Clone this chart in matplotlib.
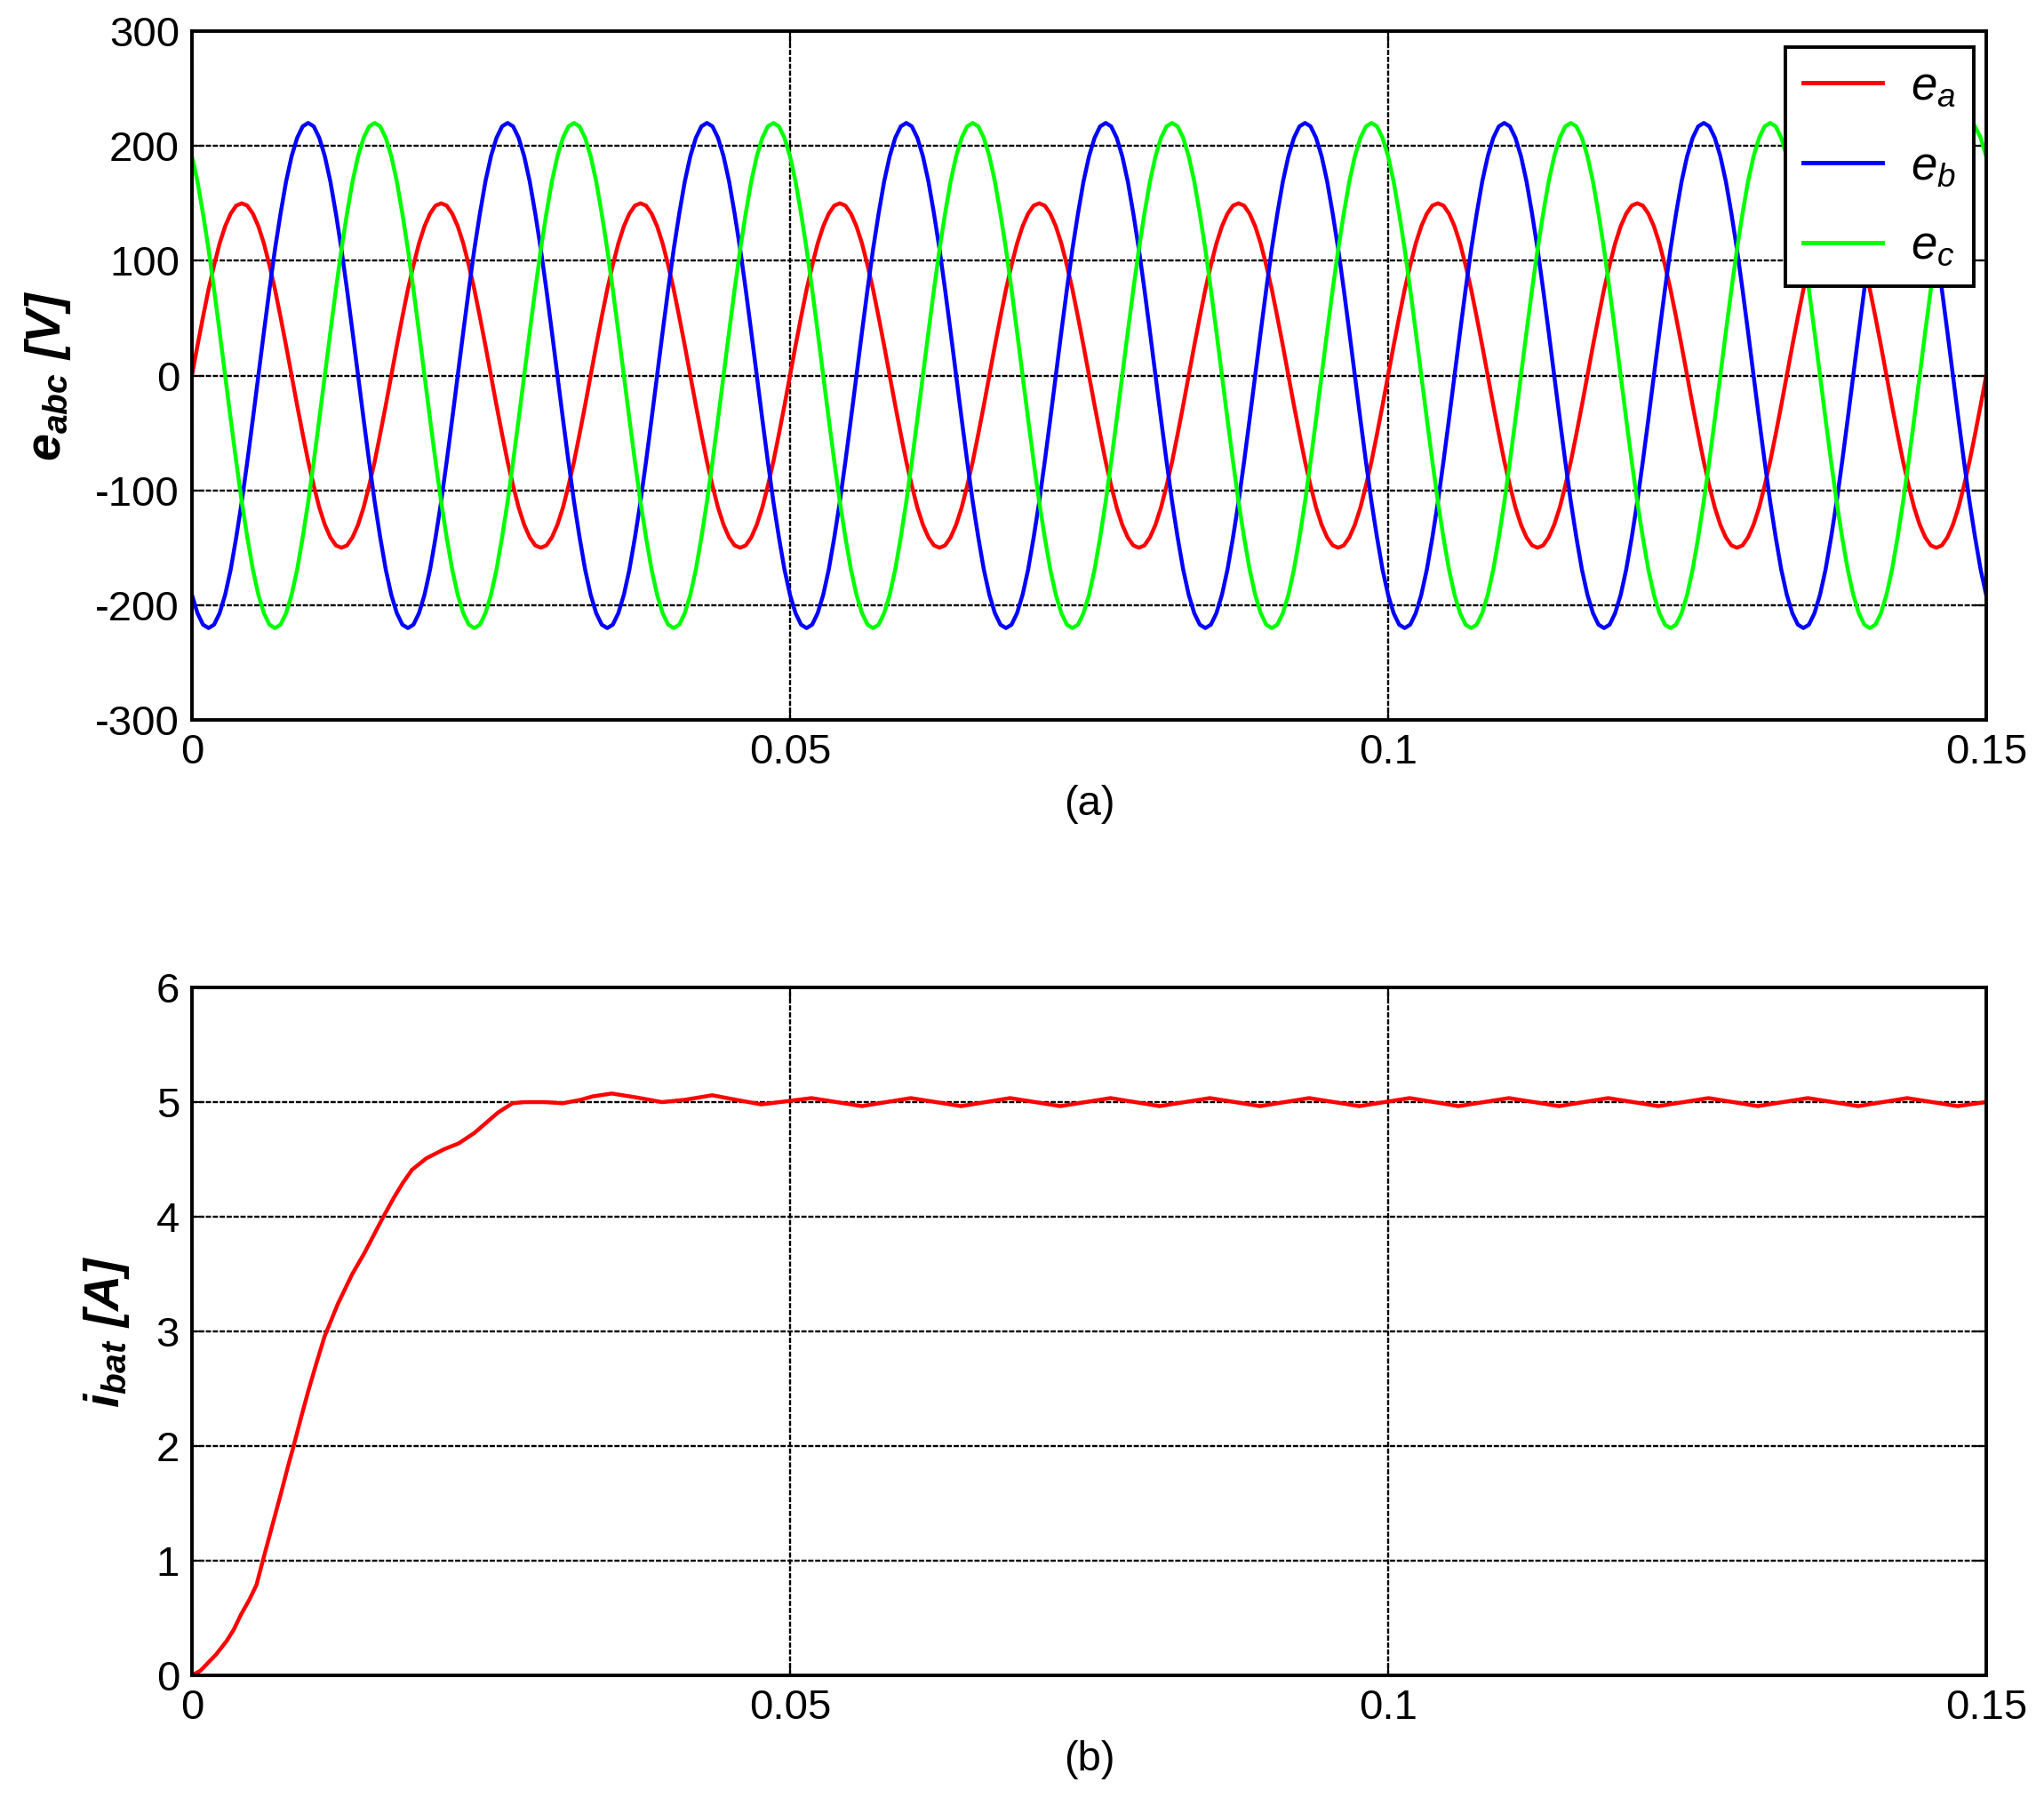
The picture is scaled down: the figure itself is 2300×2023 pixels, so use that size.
import matplotlib
matplotlib.use('Agg')
import matplotlib.pyplot as plt
import numpy as np

# --- panel (a): one 60 Hz cycle of each emf, read every 10 deg ---
f_line = 60.0
n_cycles = 9
ea_cycle = [0, 26, 51, 75, 96, 115, 130, 141, 148, 150, 148, 141, 130, 115, 96, 75, 51, 26,
            0, -26, -51, -75, -96, -115, -130, -141, -148, -150, -148, -141, -130, -115, -96, -75, -51, -26]
eb_cycle = [-191, -207, -217, -220, -217, -207, -191, -169, -141, -110, -75, -38,
            0, 38, 75, 110, 141, 169, 191, 207, 217, 220, 217, 207,
            191, 169, 141, 110, 75, 38, 0, -38, -75, -110, -141, -169]
ec_cycle = [191, 169, 141, 110, 75, 38, 0, -38, -75, -110, -141, -169,
            -191, -207, -217, -220, -217, -207, -191, -169, -141, -110, -75, -38,
            0, 38, 75, 110, 141, 169, 191, 207, 217, 220, 217, 207]
emf_labels = [r'$e_a$', r'$e_b$', r'$e_c$']
emf_colors = ['#ff0000', '#0000ff', '#00ff00']

# --- panel (b): battery current ---
t_bat = [0, 0.0007, 0.0020, 0.0029, 0.0035, 0.0041, 0.0048, 0.0054, 0.0059,
         0.0067, 0.0075, 0.0081, 0.0085, 0.0091, 0.0097, 0.0104, 0.0111,
         0.0113, 0.0122, 0.0134, 0.0144, 0.0153, 0.0160, 0.0169, 0.0176,
         0.0184, 0.0196, 0.0211, 0.0223, 0.0236, 0.0246, 0.0256, 0.0268,
         0.0278, 0.0295, 0.0310, 0.0325, 0.0335, 0.0351, 0.0372, 0.0393,
         0.0412, 0.0435, 0.0455, 0.0476,
         0.0518, 0.0560, 0.0601, 0.0643, 0.0684, 0.0726, 0.0768, 0.0809,
         0.0851, 0.0893, 0.0934, 0.0976, 0.1018, 0.1059, 0.1101, 0.1143,
         0.1184, 0.1226, 0.1268, 0.1309, 0.1351, 0.1393, 0.1434, 0.1476,
         0.1500]
i_bat = [0, 0.04, 0.18, 0.30, 0.40, 0.53, 0.66, 0.79, 0.99,
         1.30, 1.61, 1.85, 2.00, 2.24, 2.47, 2.72, 2.96,
         3.01, 3.24, 3.50, 3.68, 3.86, 4.00, 4.17, 4.29,
         4.41, 4.51, 4.59, 4.64, 4.73, 4.82, 4.91, 4.99,
         5.00, 5.00, 4.99, 5.02, 5.05, 5.075, 5.04, 5.00,
         5.02, 5.06, 5.02, 4.98,
         5.035, 4.965, 5.035, 4.965, 5.035, 4.965, 5.035, 4.965,
         5.035, 4.965, 5.035, 4.965, 5.035, 4.965, 5.035, 4.965,
         5.035, 4.965, 5.035, 4.965, 5.035, 4.965, 5.035, 4.965,
         5.0]

x_ticks = [0, 0.05, 0.1, 0.15]
x_ticklabels = ['0', '0.05', '0.1', '0.15']
ya_ticks = [-300, -200, -100, 0, 100, 200, 300]
yb_ticks = [0, 1, 2, 3, 4, 5, 6]

plt.rcParams['font.family'] = ['Liberation Sans', 'DejaVu Sans']
plt.rcParams['mathtext.fontset'] = 'custom'
plt.rcParams['mathtext.rm'] = 'Liberation Sans'
plt.rcParams['mathtext.it'] = 'Liberation Sans:italic'
plt.rcParams['mathtext.bf'] = 'Liberation Sans:bold'
plt.rcParams['mathtext.bfit'] = 'Liberation Sans:bold:italic'
plt.rcParams['axes.unicode_minus'] = False

fig = plt.figure(figsize=(23, 20.23), dpi=100)
ax1 = fig.add_axes([0.0939, 0.5996, 0.8778, 0.3831])
ax2 = fig.add_axes([0.0939, 0.0682, 0.8778, 0.3826])

n_pts = len(ea_cycle)
t_emf = np.arange(n_cycles * n_pts + 1) * (1.0 / f_line) / n_pts
for cyc, lab, col in zip([ea_cycle, eb_cycle, ec_cycle], emf_labels, emf_colors):
    vals = np.append(np.tile(cyc, n_cycles), cyc[0])
    ax1.plot(t_emf, vals, color=col, lw=3.2, label=lab)

ax2.plot(t_bat, i_bat, color='#ff0000', lw=3.2)

def style(ax, yticks):
    ax.set_xlim(0, 0.15)
    ax.set_ylim(yticks[0], yticks[-1])
    ax.set_xticks(x_ticks)
    ax.set_xticklabels(x_ticklabels)
    ax.set_yticks(yticks)
    ax.set_yticklabels([str(v) for v in yticks])
    ax.grid(True, color='black', lw=1.7, linestyle=(0, (2.5, 0.8)))
    ax.tick_params(direction='in', length=10, width=1.5, labelsize=34,
                   top=True, right=True)
    ax.tick_params(axis='x', pad=11)
    ax.tick_params(axis='y', pad=10)
    for s in ax.spines.values():
        s.set_linewidth(2.8)

style(ax1, ya_ticks)
style(ax2, yb_ticks)

ax1.set_ylabel(r'$\mathbfit{e}_{\mathbfit{abc}}$ [V]', fontsize=40,
               fontweight='bold', style='italic', labelpad=18)
ax2.set_ylabel(r'$\mathbfit{i}_{\mathbfit{bat}}$ [A]', fontsize=40,
               fontweight='bold', style='italic', labelpad=20)
ax1.set_xlabel('(a)', fontsize=34, labelpad=10)
ax2.set_xlabel('(b)', fontsize=34, labelpad=10)

leg = ax1.legend(loc='upper right', bbox_to_anchor=(0.993, 0.977),
                 borderaxespad=0, fontsize=38, handlelength=1.7,
                 handletextpad=0.6, borderpad=0.38, labelspacing=0.75,
                 fancybox=False, framealpha=1, edgecolor='black')
leg.get_frame().set_linewidth(2.8)
for h in leg.get_lines():
    h.set_linewidth(3.5)

fig.savefig('out.png', dpi=100)
